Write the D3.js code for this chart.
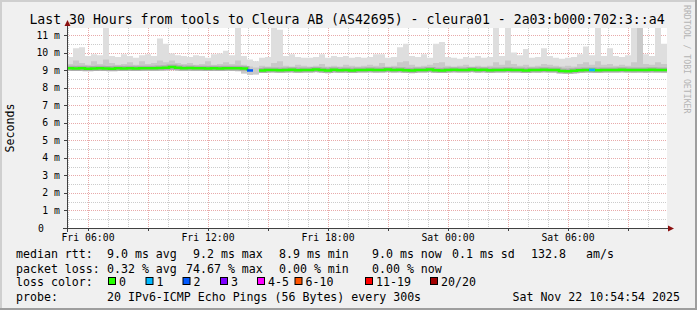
<!DOCTYPE html>
<html>
<head>
<meta charset="utf-8">
<script src="https://cdn.jsdelivr.net/npm/d3@7"></script>
<style>
body { margin: 0; background: #fff; }
text { font-family: "DejaVu Sans Mono", monospace; fill: #000; }
</style>
</head>
<body>
<div id="display"></div>
<script>
// one value per 18 minute step, in ms (30 hours -> 100 steps)
var medianRtt = [
  9.10, 9.09, 9.10, 9.08, 9.09, 9.10, 9.09, 9.08, 9.10, 9.09,
  9.10, 9.09, 9.10, 9.11, 9.10, 9.12, 9.14, 9.18, 9.13, 9.11,
  9.12, 9.10, 9.11, 9.09, 9.10, 9.09, 9.10, 9.11, 9.10, 9.09,
  8.98, null, 8.98, 9.00, 9.01, 8.99, 9.00, 9.02, 8.99, 9.00,
  9.01, 9.03, 9.00, 8.98, 9.02, 8.99, 9.01, 8.98, 9.00, 9.01,
  9.02, 9.00, 9.01, 9.03, 9.00, 9.02, 8.99, 8.98, 9.00, 9.01,
  9.03, 8.99, 8.98, 9.01, 9.02, 9.00, 9.01, 9.03, 9.00, 9.02,
  8.99, 9.01, 9.00, 9.02, 9.01, 9.00, 8.98, 9.01, 9.00, 9.02,
  9.01, 9.00, 8.95, 8.94, 8.96, 8.99, 9.00, 9.01, 8.99, 9.00,
  9.01, 9.00, 9.02, 9.01, 9.00, 9.01, 9.00, 9.02, 9.01, 9.00
];
var minRtt = [
  8.97, 8.96, 8.97, 8.95, 8.96, 8.97, 8.95, 8.96, 8.97, 8.96,
  8.96, 8.97, 8.95, 8.96, 8.97, 8.96, 8.98, 9.00, 8.97, 8.96,
  8.97, 8.95, 8.96, 8.95, 8.96, 8.95, 8.96, 8.97, 8.94, 8.80,
  8.72, 8.75, 8.85, 8.86, 8.88, 8.85, 8.87, 8.88, 8.84, 8.86,
  8.87, 8.89, 8.85, 8.82, 8.88, 8.85, 8.87, 8.84, 8.86, 8.87,
  8.88, 8.85, 8.87, 8.89, 8.86, 8.88, 8.84, 8.82, 8.86, 8.87,
  8.89, 8.85, 8.83, 8.87, 8.88, 8.86, 8.87, 8.89, 8.85, 8.88,
  8.84, 8.87, 8.86, 8.88, 8.87, 8.86, 8.83, 8.87, 8.85, 8.88,
  8.87, 8.86, 8.82, 8.80, 8.81, 8.84, 8.86, 8.85, 8.83, 8.86,
  8.87, 8.86, 8.88, 8.87, 8.85, 8.86, 8.84, 8.87, 8.86, 8.85
];
var hiRtt = [
  9.35, 9.55, 9.40, 9.30, 9.50, 9.35, 9.60, 9.40, 9.30, 9.35,
  9.45, 9.30, 9.50, 9.35, 9.40, 9.55, 9.45, 9.55, 9.40, 9.35,
  9.40, 9.30, 9.35, 9.50, 9.30, 9.35, 9.45, 9.35, 9.55, 9.30,
  9.20, 9.15, 9.25, 9.20, 9.40, 9.50, 9.25, 9.20, 9.30, 9.25,
  9.20, 9.25, 9.35, 9.20, 9.25, 9.20, 9.30, 9.25, 9.20, 9.25,
  9.30, 9.25, 9.40, 9.20, 9.25, 9.45, 9.50, 9.30, 9.20, 9.25,
  9.30, 9.40, 9.45, 9.25, 9.20, 9.25, 9.30, 9.20, 9.25, 9.20,
  9.25, 9.45, 9.30, 9.55, 9.35, 9.25, 9.30, 9.20, 9.25, 9.35,
  9.30, 9.25, 9.20, 9.25, 9.20, 9.35, 9.45, 9.30, 9.50, 9.30,
  9.35, 9.25, 9.30, 9.25, 9.45, 11.40, 9.35, 9.30, 9.45, 9.35
];
var maxRtt = [
  9.75, 10.25, 10.30, 9.80, 9.90, 9.85, 11.45, 9.80, 9.75, 9.90,
  9.80, 9.70, 9.85, 9.90, 9.80, 10.80, 10.50, 9.95, 9.85, 9.80,
  9.75, 9.85, 9.80, 9.70, 9.90, 9.95, 10.10, 9.85, 11.40, 9.80,
  9.60, 9.50, 9.70, 9.75, 11.45, 11.30, 9.80, 9.90, 9.75, 9.70,
  9.70, 9.75, 9.90, 9.70, 9.80, 9.75, 9.80, 9.70, 9.75, 9.70,
  9.75, 9.90, 9.90, 9.70, 9.75, 10.30, 10.50, 9.80, 9.75, 9.90,
  9.70, 10.50, 10.60, 9.75, 9.70, 9.65, 9.75, 9.70, 9.80, 9.70,
  9.75, 11.45, 9.80, 11.45, 10.00, 9.85, 10.20, 9.70, 9.75, 10.25,
  9.80, 9.70, 9.65, 9.70, 9.75, 9.90, 10.35, 9.85, 11.45, 9.80,
  10.25, 9.80, 9.75, 9.85, 11.45, 11.45, 9.90, 9.80, 11.45, 10.50
];
// lost pings (of 20) per step
var lostPings = [
  0,0,0,0,0,0,0,0,0,0, 0,0,0,0,0,0,0,0,0,0,
  0,0,0,0,0,0,0,0,0,0, 2,15,0,0,0,0,0,0,0,0,
  0,0,0,0,0,0,0,0,0,0, 0,0,0,0,0,0,0,0,0,0,
  0,0,0,0,0,0,0,0,0,0, 0,0,0,0,0,0,0,0,0,0,
  0,0,0,0,0,0,0,1,0,0, 0,0,0,0,0,0,0,0,0,0
];
var yLabels = [0, 1, 2, 3, 4, 5, 6, 7, 8, 9, 10, 11];
var lossLabels = ["0", "1", "2", "3", "4-5", "6-10", "11-19", "20/20"];
var lossColors = ["#26ff00", "#00b8ff", "#0059ff", "#7e00ff", "#ff00ff", "#ff5500", "#ff0000", "#a10000"];
var rttStats = ["9.0 ms avg", "9.2 ms max", "8.9 ms min", "9.0 ms now", "0.1 ms sd", "132.8", "am/s"];
var lossStats = ["0.32 % avg", "74.67 % max", "0.00 % min", "0.00 % now"];
var titleText = "Last 30 Hours from tools to Cleura AB (AS42695) - cleura01 - 2a03:b000:702:3::a4";
var probeText = "20 IPv6-ICMP Echo Pings (56 Bytes) every 300s";
var stampText = "Sat Nov 22 10:54:54 2025";

var width = 697, height = 310;
var margin = {left: 67, right: 30, top: 28, bottom: 82};
var t0 = new Date(Date.UTC(2025, 10, 21, 4, 57));
var t1 = new Date(t0.getTime() + 30 * 3600 * 1000);
var stepMs = 18 * 60 * 1000;

var x = d3.scaleUtc().domain([t0, t1]).range([margin.left, width - margin.right]);
var y = d3.scaleLinear().domain([0, 11.4]).range([height - margin.bottom, margin.top]);

function lossBucket(n) {
  if (n <= 3) return n;
  if (n <= 5) return 4;
  if (n <= 10) return 5;
  if (n <= 19) return 6;
  return 7;
}

var svg = d3.select("#display").append("svg")
    .attr("width", width)
    .attr("height", height);

// background + 3d frame
svg.append("rect").attr("width", width).attr("height", height).attr("fill", "#f0f0f0");
svg.append("rect").attr("x", 0).attr("y", 0).attr("width", width).attr("height", 2).attr("fill", "#cfcfcf");
svg.append("rect").attr("x", 0).attr("y", 0).attr("width", 2).attr("height", height).attr("fill", "#cfcfcf");
svg.append("rect").attr("x", 0).attr("y", height - 2).attr("width", width).attr("height", 2).attr("fill", "#9e9e9e");
svg.append("rect").attr("x", width - 2).attr("y", 0).attr("width", 2).attr("height", height).attr("fill", "#9e9e9e");

// canvas
svg.append("rect")
    .attr("x", x.range()[0]).attr("y", y.range()[1])
    .attr("width", x.range()[1] - x.range()[0])
    .attr("height", y.range()[0] - y.range()[1])
    .attr("fill", "#ffffff");

// grid
var hours = d3.utcHour.range(d3.utcHour.ceil(t0), t1);
var grid = svg.append("g").attr("fill", "none").attr("stroke-width", 1).attr("stroke-dasharray", "1,1");
grid.selectAll("line.vx")
  .data(hours)
  .join("line")
    .attr("x1", d => Math.round(x(d)) + 0.5).attr("x2", d => Math.round(x(d)) + 0.5)
    .attr("y1", y.range()[1]).attr("y2", y.range()[0])
    .attr("stroke", d => d.getUTCHours() % 3 === 0 ? "#e8aaaa" : "#cccccc");
var yMinor = y.ticks(22).filter(d => d % 1 !== 0);
grid.selectAll("line.hy")
  .data(yMinor)
  .join("line")
    .attr("x1", x.range()[0]).attr("x2", x.range()[1])
    .attr("y1", d => Math.round(y(d)) + 0.5).attr("y2", d => Math.round(y(d)) + 0.5)
    .attr("stroke", "#cccccc");
grid.selectAll("line.my")
  .data(yLabels.slice(1))
  .join("line")
    .attr("x1", x.range()[0]).attr("x2", x.range()[1])
    .attr("y1", d => Math.round(y(d)) + 0.5).attr("y2", d => Math.round(y(d)) + 0.5)
    .attr("stroke", "#e8aaaa");

// smoke
var pts = medianRtt.map(function (m, i) {
  return {t: new Date(t0.getTime() + i * stepMs), med: m, lo: minRtt[i], hi: hiRtt[i], max: maxRtt[i], loss: lostPings[i]};
});
var ext = pts.concat([Object.assign({}, pts[pts.length - 1], {t: t1})]);
var clipMax = y.domain()[1];

var plot = svg.append("g");
plot.append("path")
    .datum(ext)
    .attr("fill", "#dedede")
    .attr("d", d3.area().curve(d3.curveStepAfter)
      .x(d => x(d.t)).y0(d => y(d.lo)).y1(d => y(Math.min(d.max, clipMax))));
plot.append("path")
    .datum(ext)
    .attr("fill", "#c9c9c9")
    .attr("d", d3.area().curve(d3.curveStepAfter)
      .x(d => x(d.t)).y0(d => y(d.lo)).y1(d => y(Math.min(d.hi, clipMax))));

// darker haze round the median
var medLine = d3.line().curve(d3.curveStepAfter)
    .defined(d => d.med !== null)
    .x(d => x(d.t)).y(d => y(d.med));
plot.append("path")
    .datum(ext)
    .attr("fill", "none")
    .attr("stroke", "#acacac")
    .attr("stroke-width", 5)
    .attr("d", medLine);

// median, green, then coloured loss segments
plot.append("path")
    .datum(ext)
    .attr("fill", "none")
    .attr("stroke", lossColors[0])
    .attr("stroke-width", 2.5)
    .attr("d", medLine);
plot.selectAll("line.loss")
  .data(pts.filter(d => d.loss > 0 && d.med !== null))
  .join("line")
    .attr("x1", d => x(d.t)).attr("x2", d => x(new Date(d.t.getTime() + stepMs)))
    .attr("y1", d => y(d.med)).attr("y2", d => y(d.med))
    .attr("stroke", d => lossColors[lossBucket(d.loss)])
    .attr("stroke-width", 2.5);

// axes
var axisCol = "#404040";
var x0 = x.range()[0], yb = y.range()[0];
svg.append("line").attr("x1", x0 - 4).attr("x2", x.range()[1] + 2)
    .attr("y1", yb + 0.5).attr("y2", yb + 0.5).attr("stroke", axisCol);
svg.append("line").attr("x1", x0 + 0.5).attr("x2", x0 + 0.5)
    .attr("y1", yb + 4).attr("y2", y.range()[1] - 3).attr("stroke", axisCol);
svg.append("path")
    .attr("d", "M" + (x.range()[1] + 1) + "," + (yb - 2.5) + "L" + (x.range()[1] + 7) + "," + (yb + 0.5) + "L" + (x.range()[1] + 1) + "," + (yb + 3.5) + "Z")
    .attr("fill", "#8b1010");
svg.append("path")
    .attr("d", "M" + (x0 - 2.5) + "," + (y.range()[1] - 2) + "L" + (x0 + 0.5) + "," + (y.range()[1] - 8) + "L" + (x0 + 3.5) + "," + (y.range()[1] - 2) + "Z")
    .attr("fill", "#8b1010");

svg.append("g").selectAll("line")
  .data(yLabels.slice(1))
  .join("line")
    .attr("x1", x0 - 3).attr("x2", x0)
    .attr("y1", d => Math.round(y(d)) + 0.5).attr("y2", d => Math.round(y(d)) + 0.5)
    .attr("stroke", axisCol);
svg.append("g").selectAll("line")
  .data(hours.filter(d => d.getUTCHours() % 3 === 0))
  .join("line")
    .attr("x1", d => Math.round(x(d)) + 0.5).attr("x2", d => Math.round(x(d)) + 0.5)
    .attr("y1", yb).attr("y2", yb + 3)
    .attr("stroke", axisCol);

// y labels
svg.append("g").selectAll("text")
  .data(yLabels)
  .join("text")
    .attr("x", d => d === 0 ? 44 : 60)
    .attr("y", d => y(d) + 3.5)
    .attr("text-anchor", "end")
    .style("font-size", "9.8px")
    .text(d => d === 0 ? "0" : d + " m");

// x labels
var fmt = d3.utcFormat("%a %H:%M");
svg.append("g").selectAll("text")
  .data(hours.filter(d => d.getUTCHours() % 6 === 0))
  .join("text")
    .attr("x", d => x(d))
    .attr("y", yb + 13)
    .attr("text-anchor", "middle")
    .style("font-size", "9.8px")
    .text(d => fmt(d));

// title, axis label, watermark
svg.append("text").attr("x", 347).attr("y", 24).attr("text-anchor", "middle")
    .style("font-size", "13.2px").text(titleText);
svg.append("text").attr("transform", "translate(14,128) rotate(-90)").attr("text-anchor", "middle")
    .style("font-size", "11.6px").text("Seconds");
svg.append("text").attr("transform", "translate(684,5) rotate(90)")
    .style("font-size", "8.2px").style("fill", "#b4b4b4").text("RRDTOOL / TOBI OETIKER");

// legend
var lg = svg.append("g").style("font-size", "11.6px");
var rowY = [258, 272.5, 286, 300.5];
lg.append("text").attr("x", 16).attr("y", rowY[0]).text("median rtt:");
var rttX = [107, 193, 279, 372, 452, 531, 586];
lg.selectAll("text.rtt").data(rttStats).join("text")
    .attr("class", "rtt")
    .attr("x", (d, i) => rttX[i]).attr("y", rowY[0]).text(d => d);
lg.append("text").attr("x", 16).attr("y", rowY[1]).text("packet loss:");
var lossX = [107, 186, 279, 372];
lg.selectAll("text.pl").data(lossStats).join("text")
    .attr("class", "pl")
    .attr("x", (d, i) => lossX[i]).attr("y", rowY[1]).text(d => d);
lg.append("text").attr("x", 16).attr("y", rowY[2]).text("loss color:");
var boxX = [108, 145.5, 182.5, 220, 257, 294.5, 365, 430];
lg.selectAll("rect").data(lossColors).join("rect")
    .attr("x", (d, i) => boxX[i] + 0.5).attr("y", 277.5)
    .attr("width", 7).attr("height", 7)
    .attr("fill", d => d).attr("stroke", "#000").attr("stroke-width", 1);
lg.selectAll("text.lc").data(lossLabels).join("text")
    .attr("class", "lc")
    .attr("x", (d, i) => boxX[i] + 11).attr("y", rowY[2]).text(d => d);
lg.append("text").attr("x", 16).attr("y", rowY[3]).text("probe:");
lg.append("text").attr("x", 107).attr("y", rowY[3]).text(probeText);
lg.append("text").attr("x", 680).attr("y", rowY[3]).attr("text-anchor", "end").text(stampText);
</script>
</body>
</html>
